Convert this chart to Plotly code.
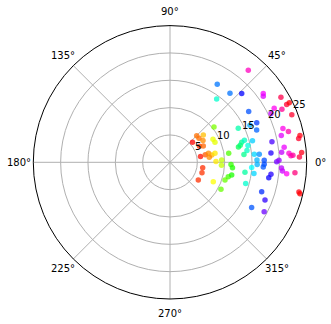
import math
import plotly.graph_objects as go

# Radius (data units) of each point
r_values = [5.52, 6.89, 7.87, 6.88, 7.23, 6.14, 6.78, 8.91, 9.00, 10.31,
            5.68, 6.60, 7.23, 7.76, 8.39, 7.24, 8.41, 9.46, 9.43, 10.86,
            11.16, 11.47, 6.06, 6.15, 6.10, 8.67, 10.56, 10.98, 11.52, 10.55,
            13.95, 12.83, 13.22, 13.61, 14.20, 14.59, 14.24, 15.59, 13.60, 16.11,
            17.43, 16.91, 17.12, 15.48, 16.39, 15.91, 15.95, 17.24, 17.24, 17.08,
            13.83, 14.97, 15.49, 14.37, 18.59, 18.28, 17.61, 18.70, 17.07, 19.45,
            19.02, 18.54, 19.51, 19.93, 20.41, 20.63, 21.44, 22.93, 23.69, 24.14,
            21.82, 22.15, 22.52, 20.50, 21.06, 21.56, 22.38, 20.93, 24.27, 23.93,
            20.51, 23.91, 21.46, 22.66, 23.82, 24.38, 23.52, 21.19, 20.90, 18.17,
            16.72, 16.68, 14.38, 22.09, 24.20, 24.45]

# Angle (degrees) of each point
theta_values = [41.8, 44.9, 39.3, 39.6, 33.4, 28.5, 26.1, 28.1, 24.0, 38.7,
                10.8, 12.1, 13.2, 9.9, 11.3, 7.3, 1.0, 2.5, -3.3, 8.7,
                -2.1, -5.0, -9.4, -18.0, -32.0, -24.1, -17.8, -13.9, -11.6, -27.9,
                26.5, 12.6, 13.6, 15.6, 16.5, 12.2, 8.7, 14.7, 6.0, 24.8,
                24.5, 20.4, 32.8, 5.4, 5.1, 1.5, -1.4, 1.3, -1.2, -2.9,
                -7.6, -3.6, -7.6, -15.6, -6.7, -8.9, -17.8, -21.7, -29.0, -27.7,
                11.4, 5.3, 0.3, 1.1, -2.9, -4.4, -5.6, -4.8, 2.3, 4.3,
                4.3, 3.1, 3.3, 5.2, 7.5, 16.7, 14.6, 13.5, 11.7, 10.5,
                25.8, 21.3, 27.4, 25.4, 26.4, 26.5, 30.4, 36.4, 35.3, 43.8,
                49.0, 58.8, 53.6, 49.6, -13.0, -13.6]

angle_ticks = [0, 45, 90, 135, 180, 225, 270, 315]
angle_labels = [f"{a}°" for a in angle_ticks]
radial_ticks = [5, 10, 15, 20, 25]
radial_labels = ["5", "10", "15", "20", "25"]
r_max = 25
r_label_angle = 22.5

hsv_scale = [[0.0, "#ff0000"], [1/6, "#ffff00"], [1/3, "#00ff00"],
             [0.5, "#00ffff"], [2/3, "#0000ff"], [5/6, "#ff00ff"], [1.0, "#ff0000"]]

fig = go.Figure()
fig.add_trace(go.Scatterpolar(
    r=r_values, theta=theta_values, mode="markers",
    marker=dict(size=5.5, color=r_values, colorscale=hsv_scale,
                opacity=0.75, line=dict(width=0)),
    showlegend=False,
))

W, H = 331, 324
cx, cy, R = 170.0, 162.3, 136.7  # centre and radius of the polar area, pixels


def to_paper(px, py):
    return px / W, 1 - py / H


annotations = []
# angular tick labels, centred just outside the outer circle
for a, lab in zip(angle_ticks, angle_labels):
    rad = math.radians(a)
    px = cx + (R + 14) * math.cos(rad)
    py = cy - (R + 14) * math.sin(rad)
    x, y = to_paper(px, py)
    annotations.append(dict(x=x, y=y, xref="paper", yref="paper", text=lab,
                            showarrow=False, xanchor="center", yanchor="middle",
                            font=dict(family="DejaVu Sans", size=10, color="black")))
# radial tick labels along the 22.5 degree direction
for rv, lab in zip(radial_ticks, radial_labels):
    rad = math.radians(r_label_angle)
    dist = rv / r_max * R
    px = cx + dist * math.cos(rad) + 3
    py = cy - dist * math.sin(rad) - 5.7
    x, y = to_paper(px, py)
    annotations.append(dict(x=x, y=y, xref="paper", yref="paper", text=lab,
                            showarrow=False, xanchor="center", yanchor="middle",
                            font=dict(family="DejaVu Sans", size=10, color="black")))

fig.update_layout(
    width=W, height=H,
    margin=dict(l=0, r=0, t=0, b=0),
    paper_bgcolor="white",
    font=dict(family="DejaVu Sans", size=10, color="black"),
    annotations=annotations,
    polar=dict(
        domain=dict(x=[(cx - R) / W, (cx + R) / W],
                    y=[1 - (cy + R) / H, 1 - (cy - R) / H]),
        bgcolor="white",
        radialaxis=dict(range=[0, r_max], tickmode="array", tickvals=radial_ticks,
                        showticklabels=False, angle=r_label_angle, showline=False,
                        ticks="", gridcolor="#b0b0b0", gridwidth=0.8),
        angularaxis=dict(tickmode="array", tickvals=angle_ticks,
                         showticklabels=False,
                         direction="counterclockwise", rotation=0,
                         showline=True, linecolor="black", linewidth=1,
                         ticks="", gridcolor="#b0b0b0", gridwidth=0.8),
    ),
)

fig.write_html("out.html")
